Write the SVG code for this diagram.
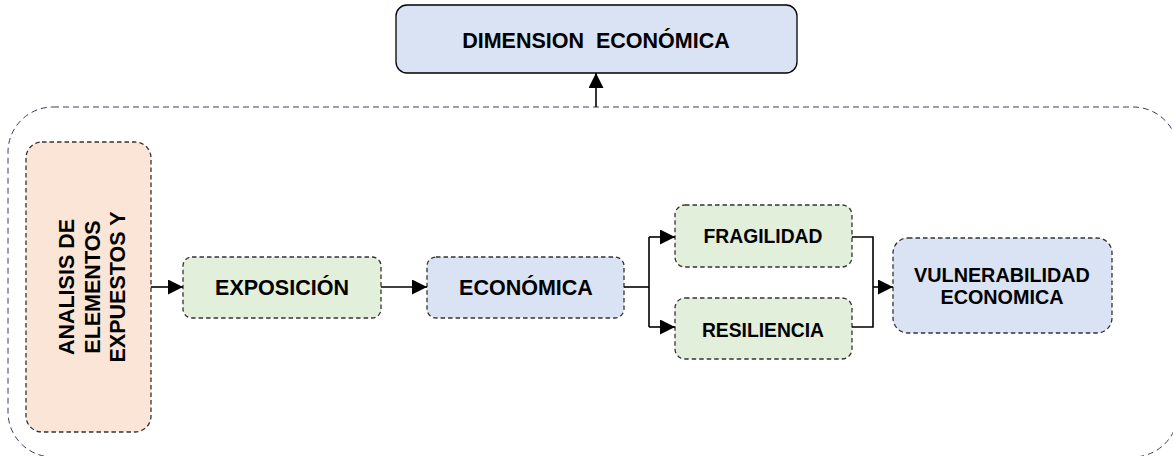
<svg xmlns="http://www.w3.org/2000/svg" width="1173" height="456" viewBox="0 0 1173 456">
<style>
.lbl{font-family:"Liberation Sans",Arial,sans-serif;font-weight:bold;font-size:21.5px;fill:#000;text-anchor:middle}
.sm{font-size:19.3px}
.md{font-size:19.8px}
.node{stroke:#333;stroke-width:1.3;stroke-dasharray:4.5 3}
.green{fill:#e2efda}
.blue{fill:#dae3f3}
.peach{fill:#fbe5d6}
.conn{fill:none;stroke:#000;stroke-width:1.6}
</style>
<defs>
<marker id="arr" markerUnits="userSpaceOnUse" markerWidth="16" markerHeight="15" refX="15" refY="7.5" orient="auto">
<path d="M0,0 L15,7.5 L0,15 Z" fill="#000"/>
</marker>
</defs>
<g id="container">
<rect x="8" y="107" width="1170" height="350" rx="45" ry="45" fill="none" stroke="#3c3c6a" stroke-width="1" stroke-dasharray="6 4"/>
</g>
<g id="dimension">
<rect x="396" y="5" width="401" height="68" rx="11" ry="11" class="blue" stroke="#000" stroke-width="1.3"/>
<text class="lbl" x="596" y="48" xml:space="preserve" style="white-space:pre">DIMENSION  ECONÓMICA</text>
</g>
<g id="analisis">
<rect x="26" y="142" width="125" height="290" rx="16" ry="16" class="node peach"/>
<text class="lbl" transform="translate(88,287) rotate(-90)"><tspan x="0" y="-14">ANALISIS DE</tspan><tspan x="0" y="12">ELEMENTOS</tspan><tspan x="0" y="37">EXPUESTOS Y</tspan></text>
</g>
<g id="exposicion">
<rect x="183" y="257" width="198" height="61" rx="9" ry="9" class="node green"/>
<text class="lbl" x="282" y="295">EXPOSICIÓN</text>
</g>
<g id="economica">
<rect x="427" y="257" width="197" height="61" rx="9" ry="9" class="node blue"/>
<text class="lbl" x="526" y="295">ECONÓMICA</text>
</g>
<g id="fragilidad">
<rect x="675" y="205" width="177" height="62" rx="10" ry="10" class="node green"/>
<text class="lbl sm" x="763" y="243">FRAGILIDAD</text>
</g>
<g id="resiliencia">
<rect x="675" y="298" width="177" height="61" rx="10" ry="10" class="node green"/>
<text class="lbl sm" x="763" y="337">RESILIENCIA</text>
</g>
<g id="vulnerabilidad">
<rect x="893" y="238" width="219" height="95" rx="15" ry="15" class="node blue"/>
<text class="lbl md" x="1002" y="282">VULNERABILIDAD</text>
<text class="lbl md" x="1002" y="304">ECONOMICA</text>
</g>
<g id="connectors">
<path class="conn" d="M596,107 L596,73" marker-end="url(#arr)"/>
<path class="conn" d="M151,287 L183,287" marker-end="url(#arr)"/>
<path class="conn" d="M381,287 L427,287" marker-end="url(#arr)"/>
<path class="conn" d="M624,287 L649,287"/>
<path class="conn" d="M649,237 L649,327"/>
<path class="conn" d="M649,237 L675,237" marker-end="url(#arr)"/>
<path class="conn" d="M649,327 L675,327" marker-end="url(#arr)"/>
<path class="conn" d="M852,237 L873,237 L873,327 L852,327"/>
<path class="conn" d="M873,287 L893,287" marker-end="url(#arr)"/>
</g>
</svg>
